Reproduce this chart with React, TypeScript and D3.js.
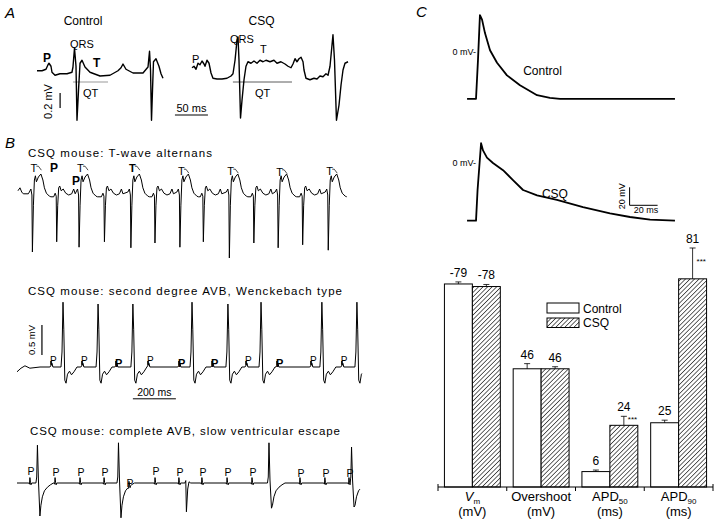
import React from 'react';
import * as d3 from 'd3';

type Pt = [number, number];
const FONT = '"Liberation Sans", Arial, Helvetica, sans-serif';

// ---------------- Panel A: ECG (time ms, voltage mV) ----------------
const ecgControlA: Pt[] = [
  [0, -0.01], [7.6, -0.01], [13.6, 0.01], [16.7, 0.07], [18.2, 0.09], [21.2, 0.05], [22.7, -0.03],
  [27.3, -0.07], [34.8, -0.05], [45.5, -0.05], [53, -0.03], [54.5, 0.04], [56.8, 0.29], [59.1, 0.05],
  [60.6, -0.67], [62.9, -0.27], [65.2, 0.09], [68.2, 0.13], [72.7, 0.04], [80.3, -0.03], [95.5, -0.08],
  [110.6, -0.07], [122.7, -0.01], [127.3, 0.03], [130.3, 0.08], [134.8, 0.01], [145.5, -0.04],
  [160.6, -0.04], [168.2, 0.04], [170.5, 0.25], [172, 0], [173.5, -0.67], [175, -0.27], [176.5, 0.11],
  [180.3, 0.15], [184.8, 0.05], [187.9, -0.05], [190.9, -0.11],
];
const ecgCsqA: Pt[] = [
  [0, 0.03], [3, 0.05], [6.1, 0.01], [9.1, 0.09], [12.1, 0.07], [15.2, 0.12], [18.2, 0.08], [19.7, 0.05],
  [22.7, 0.13], [25.8, 0.09], [28.8, -0.04], [31.8, -0.11], [37.9, -0.12], [45.5, -0.12], [53, -0.11],
  [59.1, -0.08], [62.1, -0.05], [65.2, 0.13], [68.2, 0.4], [69.7, 0.44], [71.2, 0.13], [73.5, -0.64],
  [75.8, -0.4], [78.8, -0.13], [81.8, 0.05], [84.8, 0.11], [89.4, 0.09], [93.9, 0.12], [98.5, 0.09],
  [103, 0.13], [107.6, 0.11], [112.1, 0.13], [118.2, 0.11], [124.2, 0.13], [128.8, 0.09], [134.8, 0.11],
  [140.9, 0.08], [145.5, 0.05], [150, 0.03], [153, 0.08], [156.1, 0.15], [159.1, 0.11], [162.1, 0.15],
  [165.2, 0.17], [168.2, 0.11], [169.7, 0], [172.7, -0.11], [178.8, -0.13], [184.8, -0.11], [189.4, -0.12],
  [193.9, -0.08], [198.5, -0.09], [203, -0.05], [206.1, -0.07], [209.1, 0.05], [212.1, 0.33], [213.6, 0.47],
  [215.9, 0.13], [218.9, -0.67], [222.7, -0.47], [225.8, -0.2], [228.8, 0], [231.8, 0.09], [236.4, 0.11],
];
const labelsControlA = [
  { text: 'P', t: 9.1, v: 0.107, bold: true },
  { text: 'QRS', t: 50, v: 0.29, bold: false },
  { text: 'T', t: 84.8, v: 0.04, bold: true },
  { text: 'QT', t: 69.7, v: -0.36, bold: false },
];
const labelsCsqA = [
  { text: 'P', t: 0, v: 0.09, bold: false },
  { text: 'QRS', t: 57.6, v: 0.36, bold: false },
  { text: 'T', t: 103, v: 0.23, bold: false },
  { text: 'QT', t: 95.5, v: -0.36, bold: false },
];
const qtControlA: Pt = [54.5, 107.6];
const qtCsqA: Pt = [62, 151.5];

// ---------------- Panel B1: T-wave alternans ----------------
const altSpikeTimes = [67, 180, 284, 402, 525, 637, 753, 862, 983, 1097, 1210, 1324, 1443];
const altSpikeDepths = [-1.0, -0.83, -0.92, -0.83, -0.93, -0.85, -0.92, -0.83, -1.1, -0.85, -0.93, -0.88, -0.97];
const altBeatKinds = ['long', 'short', 'long', 'short', 'long', 'short', 'long', 'short', 'long', 'short', 'long', 'short', 'long'];
const altLongT: Pt[] = [
  [-14, 0], [-7, 0.05], [-2.3, -0.05], [0, -1], [4.7, -0.22], [9.3, 0.2], [14, 0.27], [18.6, 0.17],
  [27.9, 0.25], [39.5, 0.3], [48.8, 0.2], [55.8, 0.07], [65.1, -0.02], [79, -0.07], [86, -0.08],
];
const altShortT: Pt[] = [
  [-14, -0.08], [-7, -0.02], [-2.3, -0.07], [0, -1], [4.7, -0.22], [9.3, 0.07], [14, 0.1], [20.9, 0.02],
  [30.2, 0.05], [41.9, -0.02], [55.8, -0.05], [69.8, -0.03], [79, 0.05], [86, -0.03],
];
const altLeadIn: Pt[] = [[0, 0.02], [1.4, 0.03], [9.3, 0.07], [17.2, 0], [24.6, -0.03], [47.9, -0.03]];
const altTLabelLevels = [0.33, 0.33, 0.33, 0.28, 0.28, 0.27, 0.28];
const altTLabelBold = [false, false, true, false, false, false, false];
const altPLabels = [{ t: 149, v: 0.33 }, { t: 251, v: 0.12 }];

// ---------------- Panel B2: Wenckebach ----------------
const wenckRTimes = [214, 377, 539, 814, 981, 1135, 1418, 1581];
const wenckRHeights = [1.08, 1.05, 1.05, 1.08, 1.05, 1.08, 1.08, 1.08];
const wenckPTimes = [158, 302, 460, 609, 753, 907, 1065, 1209, 1367, 1511];
const wenckPBold = [false, false, true, false, true, true, false, true, false, false];
const wenckQrs: Pt[] = [
  [-9.3, 0], [-4.7, 0.25], [0, 1.08], [3.7, 0.62], [8.4, -0.22], [14, -0.27], [20.9, -0.12],
  [30.2, -0.07], [39.5, -0.13], [51, -0.08], [65, 0],
];
const wenckP: Pt[] = [[-5, 0], [-1, 0.02], [0, 0.1], [2, 0.03], [5, 0.06], [9, 0]];
const wenckLeadIn: Pt[] = [[0, -0.08], [18.6, -0.02], [37, 0.02], [60, -0.02], [107, 0]];
const wenckEnd = 1604;

// ---------------- Panel B3: complete AVB ----------------
const avbEscapeTimes = [95, 472, 1172, 1556];
const avbEscapeTops = [0.63, 0.67, 0.67, 0.6];
const avbEscapeBottoms = [-0.55, -0.58, -0.42, -0.4];
const avbEscape: Pt[] = [
  [-7, 0], [-3.3, 0.1], [0, 0.63], [4.7, 0.05], [11.6, -0.5], [16.3, -0.37], [23, -0.23],
  [32.6, -0.13], [46.5, -0.07], [60.5, -0.03], [74.4, 0],
];
const avbOddTime = 788;
const avbOdd: Pt[] = [[-7, 0], [-3, 0.04], [0, -0.48], [6, -0.1], [12, 0.02], [20, 0]];
const avbPTimes = [60, 177, 293, 405, 521, 642, 753, 860, 977, 1093, 1316, 1432, 1544];
const avbPLabelLevels = [0.14, 0.12, 0.12, 0.12, -0.07, 0.13, 0.12, 0.12, 0.12, 0.12, 0.1, 0.1, 0.1];
const avbP: Pt[] = [[-5, 0], [-2, -0.02], [0, 0.09], [2.5, 0.01], [5, -0.03], [8, 0]];
const avbEnd = 1595;

// ---------------- Panel C: action potentials (ms, mV) ----------------
const apControl: Pt[] = [
  [-7.1, -52], [-0.7, -52], [0.7, -9], [2.1, 41], [3.6, 36], [5.7, 21], [9.3, 2], [14.3, -12],
  [21.4, -26], [30.7, -37], [42.9, -48], [52.1, -51], [59.3, -52], [141.4, -52],
];
const apCsq: Pt[] = [
  [-7.1, -64], [-0.7, -64], [0.4, -30], [2.9, 22], [4.3, 14], [7.1, 6], [11.4, 0], [18.6, -8],
  [25.7, -19], [32.9, -30], [42.9, -36], [57.1, -41], [75.7, -49], [95, -56], [109.3, -60],
  [123.6, -63], [141.4, -64],
];

// ---------------- Panel C: bar chart ----------------
const categories = ['Vm', 'Overshoot', 'APD50', 'APD90'];
const catMain = ['V', 'Overshoot', 'APD', 'APD'];
const catSub = ['m', '', '50', '90'];
const catUnit = ['(mV)', '(mV)', '(ms)', '(ms)'];
const controlMeans = [-79, 46, 6, 25];
const csqMeans = [-78, 46, 24, 81];
const controlSem = [0.8, 2, 0.6, 1];
const csqSem = [0.8, 0.8, 3.5, 12];
const csqSignif = ['', '', '***', '***'];
const groups = ['Control', 'CSQ'];

function interp(tpl: Pt[], dt: number): number {
  if (dt < tpl[0][0] || dt > tpl[tpl.length - 1][0]) return 0;
  for (let i = 1; i < tpl.length; i++) {
    if (dt <= tpl[i][0]) {
      const [t0, v0] = tpl[i - 1];
      const [t1, v1] = tpl[i];
      return t1 === t0 ? v1 : v0 + ((v1 - v0) * (dt - t0)) / (t1 - t0);
    }
  }
  return 0;
}

function compose(comps: { t: number; tpl: Pt[] }[], start: number, end: number): Pt[] {
  const times = new Set<number>([start, end]);
  comps.forEach((c) => c.tpl.forEach((p) => {
    const tt = c.t + p[0];
    if (tt >= start && tt <= end) times.add(tt);
  }));
  const ts = Array.from(times).sort((a, b) => a - b);
  return ts.map((t) => [t, d3.sum(comps, (c) => interp(c.tpl, t - c.t))] as Pt);
}

function withPeak(tpl: Pt[], at: number, v: number): Pt[] {
  return tpl.map(([dt, val]) => [dt, dt === at ? v : val] as Pt);
}

export default function App() {
  const lineOf = (x: d3.ScaleLinear<number, number>, y: d3.ScaleLinear<number, number>) =>
    d3.line<Pt>().x((d) => x(d[0])).y((d) => y(d[1]));

  // ---- scales ----
  const xACtrl = d3.scaleLinear().domain([0, 100]).range([37, 103]);
  const xACsq = d3.scaleLinear().domain([0, 100]).range([192, 258]);
  const yA = d3.scaleLinear().domain([0, 1]).range([70, -5]);
  const xB1 = d3.scaleLinear().domain([0, 1000]).range([18, 233]);
  const yB1 = d3.scaleLinear().domain([0, 1]).range([192, 132]);
  const xB2 = d3.scaleLinear().domain([0, 1000]).range([17, 232]);
  const yB2 = d3.scaleLinear().domain([0, 1]).range([367, 307]);
  const yB3 = d3.scaleLinear().domain([0, 1]).range([483, 423]);
  const xC = d3.scaleLinear().domain([0, 20]).range([477, 505]);
  const yCCtrl = d3.scaleLinear().domain([0, 20]).range([52, 34]);
  const yCCsq = d3.scaleLinear().domain([0, 20]).range([163, 145]);

  // ---- B1 trace ----
  const b1: Pt[] = [
    ...altLeadIn,
    ...altSpikeTimes.flatMap((t, i) =>
      withPeak(altBeatKinds[i] === 'long' ? altLongT : altShortT, 0, altSpikeDepths[i]).map(
        ([dt, v]) => [t + dt, v] as Pt,
      ),
    ),
  ];
  const bigIdx = altSpikeTimes.map((t, i) => i).filter((i) => altBeatKinds[i] === 'long');

  // ---- B2 trace ----
  const b2 = compose(
    [
      { t: 0, tpl: wenckLeadIn },
      ...wenckRTimes.map((t, i) => ({ t, tpl: withPeak(wenckQrs, 0, wenckRHeights[i]) })),
      ...wenckPTimes.map((t) => ({ t, tpl: wenckP })),
    ],
    0,
    wenckEnd,
  );

  // ---- B3 trace ----
  const b3 = compose(
    [
      ...avbEscapeTimes.map((t, i) => ({
        t,
        tpl: withPeak(withPeak(avbEscape, 0, avbEscapeTops[i]), 11.6, avbEscapeBottoms[i]),
      })),
      { t: avbOddTime, tpl: avbOdd },
      ...avbPTimes.map((t) => ({ t, tpl: avbP })),
    ],
    0,
    avbEnd,
  );

  // ---- bar chart scales ----
  const xBand = d3.scaleBand<string>().domain(categories).range([438, 713]).padding(0);
  const xGroup = d3.scaleBand<string>().domain(groups).range([0, xBand.bandwidth()]).paddingInner(0).paddingOuter(0.23);
  const yBar = d3.scaleLinear().domain([0, 100]).range([487, 230]);
  const bw = xGroup.bandwidth();
  const tickXs = [...categories.map((c) => xBand(c) as number), xBand.range()[1]];

  const txt = { fontFamily: FONT, fill: '#000' } as const;

  const renderBar = (c: string, i: number, g: string) => {
    const mean = g === 'Control' ? controlMeans[i] : csqMeans[i];
    const sem = g === 'Control' ? controlSem[i] : csqSem[i];
    const x0 = (xBand(c) as number) + (xGroup(g) as number);
    const cx = x0 + bw / 2;
    const top = yBar(Math.abs(mean));
    const errTop = yBar(Math.abs(mean) + sem);
    return (
      <g key={c + g}>
        <rect x={x0} y={top} width={bw} height={yBar(0) - top}
          fill={g === 'Control' ? '#fff' : 'url(#hatch)'} stroke="#000" strokeWidth={1} />
        <line x1={cx} x2={cx} y1={top} y2={errTop} stroke="#000" strokeWidth={0.8} />
        <line x1={cx - 3} x2={cx + 3} y1={errTop} y2={errTop} stroke="#000" strokeWidth={0.8} />
        <text x={cx} y={errTop - 5} textAnchor="middle" fontSize={12} {...txt}>{String(mean)}</text>
        {g === 'CSQ' && csqSignif[i] ? (
          <text x={cx + 4} y={(errTop + top) / 2 + 1} fontSize={8} {...txt}>{csqSignif[i]}</text>
        ) : null}
      </g>
    );
  };

  return (
    <svg width={720} height={527} style={{ position: 'absolute', left: 0, top: 0, background: '#fff' }}
      fontFamily={FONT}>
      <defs>
        <pattern id="hatch" patternUnits="userSpaceOnUse" width={3.2} height={3.2} patternTransform="rotate(45)">
          <rect width={3.2} height={3.2} fill="#fff" />
          <line x1={0} y1={0} x2={0} y2={3.2} stroke="#000" strokeWidth={1.2} />
        </pattern>
      </defs>
      <rect width={720} height={527} fill="#fff" />

      {/* ---------- Panel A ---------- */}
      <text x={5} y={18} fontSize={15} fontStyle="italic" {...txt}>A</text>
      <text x={83} y={25} fontSize={12} textAnchor="middle" {...txt}>Control</text>
      <text x={261.5} y={25} fontSize={12} textAnchor="middle" {...txt}>CSQ</text>
      <line x1={xACtrl(qtControlA[0])} x2={xACtrl(qtControlA[1])} y1={yA(-0.16)} y2={yA(-0.16)} stroke="#999" strokeWidth={1} />
      <line x1={xACsq(qtCsqA[0])} x2={xACsq(qtCsqA[1])} y1={yA(-0.16)} y2={yA(-0.16)} stroke="#333" strokeWidth={0.8} />
      <path d={lineOf(xACtrl, yA)(ecgControlA) || ''} fill="none" stroke="#000" strokeWidth={1.4} strokeLinejoin="round" />
      <path d={lineOf(xACsq, yA)(ecgCsqA) || ''} fill="none" stroke="#000" strokeWidth={1.4} strokeLinejoin="round" />
      {labelsControlA.map((l) => (
        <text key={'ca' + l.text} x={xACtrl(l.t)} y={yA(l.v)} fontSize={l.bold ? 12 : 11}
          fontWeight={l.bold ? 'bold' : 'normal'} {...txt}>{l.text}</text>
      ))}
      {labelsCsqA.map((l) => (
        <text key={'sa' + l.text} x={xACsq(l.t)} y={yA(l.v)} fontSize={11}
          fontWeight={l.bold ? 'bold' : 'normal'} {...txt}>{l.text}</text>
      ))}
      {/* A scale bars */}
      <line x1={xACtrl(35)} x2={xACtrl(35)} y1={yA(-0.307)} y2={yA(-0.507)} stroke="#000" strokeWidth={1.2} />
      <text transform={`translate(${xACtrl(22.7)},${yA(-0.42)}) rotate(-90)`} textAnchor="middle" fontSize={11} {...txt}>0.2 mV</text>
      <line x1={xACtrl(209)} x2={xACtrl(259)} y1={yA(-0.6)} y2={yA(-0.6)} stroke="#000" strokeWidth={1} />
      <text x={(xACtrl(209) + xACtrl(259)) / 2} y={yA(-0.56)} textAnchor="middle" fontSize={11} {...txt}>50 ms</text>

      {/* ---------- Panel B ---------- */}
      <text x={5} y={148} fontSize={15} fontStyle="italic" {...txt}>B</text>
      <text x={28} y={157} fontSize={11.5} textLength={184} lengthAdjust="spacing" {...txt}>CSQ mouse: T-wave alternans</text>
      <path d={lineOf(xB1, yB1)(b1) || ''} fill="none" stroke="#000" strokeWidth={1} strokeLinejoin="round" />
      {bigIdx.map((bi, k) => {
        const x = xB1(altSpikeTimes[bi]) - 2;
        const y = yB1(altTLabelLevels[k]);
        return (
          <g key={'tl' + bi}>
            <text x={x} y={y} fontSize={11} fontWeight={altTLabelBold[k] ? 'bold' : 'normal'} {...txt}>T</text>
            <line x1={x + 6} y1={y - 6} x2={x + 8} y2={y - 6} stroke="#000" strokeWidth={0.7} />
            <line x1={x + 8} y1={y - 6} x2={x + 11} y2={y - 2} stroke="#000" strokeWidth={0.7} />
          </g>
        );
      })}
      {altPLabels.map((p, i) => (
        <text key={'bp' + i} x={xB1(p.t)} y={yB1(p.v)} fontSize={12} fontWeight="bold" {...txt}>P</text>
      ))}

      <text x={28} y={295} fontSize={11.5} textLength={314} lengthAdjust="spacing" {...txt}>CSQ mouse: second degree AVB, Wenckebach type</text>
      <path d={lineOf(xB2, yB2)(b2) || ''} fill="none" stroke="#000" strokeWidth={1} strokeLinejoin="round" />
      {wenckPTimes.map((t, i) => (
        <text key={'wp' + i} x={xB2(t) - 1} y={wenckPBold[i] ? 367 : 364} fontSize={wenckPBold[i] ? 11 : 10}
          fontWeight={wenckPBold[i] ? 'bold' : 'normal'} {...txt}>P</text>
      ))}
      <line x1={xB2(116)} x2={xB2(116)} y1={yB2(0.7)} y2={yB2(0.2)} stroke="#000" strokeWidth={1.2} />
      <text transform={`translate(${xB2(83)},${yB2(0.45)}) rotate(-90)`} textAnchor="middle" fontSize={9.5} {...txt}>0.5 mV</text>
      <line x1={xB2(539)} x2={xB2(739)} y1={yB2(-0.53)} y2={yB2(-0.53)} stroke="#000" strokeWidth={1} />
      <text x={(xB2(539) + xB2(739)) / 2} y={yB2(-0.485)} textAnchor="middle" fontSize={10.5} {...txt}>200 ms</text>

      <text x={30} y={435} fontSize={11.5} textLength={310} lengthAdjust="spacing" {...txt}>CSQ mouse: complete AVB, slow ventricular escape</text>
      <path d={lineOf(xB2, yB3)(b3) || ''} fill="none" stroke="#000" strokeWidth={1} strokeLinejoin="round" />
      {avbPTimes.map((t, i) => (
        <text key={'ap' + i} x={xB2(t) - 2.5} y={yB3(avbPLabelLevels[i])} fontSize={10.5} {...txt}>P</text>
      ))}

      {/* ---------- Panel C ---------- */}
      <text x={416} y={17} fontSize={15} fontStyle="italic" {...txt}>C</text>
      <path d={lineOf(xC, yCCtrl)(apControl) || ''} fill="none" stroke="#000" strokeWidth={1.8} strokeLinejoin="round" />
      <path d={lineOf(xC, yCCsq)(apCsq) || ''} fill="none" stroke="#000" strokeWidth={1.8} strokeLinejoin="round" />
      <text x={xC(-0.7)} y={yCCtrl(0) + 3} textAnchor="end" fontSize={9} {...txt}>0 mV-</text>
      <text x={xC(-0.7)} y={yCCsq(0) + 3} textAnchor="end" fontSize={9} {...txt}>0 mV-</text>
      <text x={xC(33)} y={yCCtrl(-26)} fontSize={12} {...txt}>Control</text>
      <text x={xC(46.4)} y={yCCsq(-39)} fontSize={12} {...txt}>CSQ</text>
      <path d={`M${xC(109)},${yCCsq(-27)}V${yCCsq(-47)}H${xC(129)}`} fill="none" stroke="#000" strokeWidth={1} />
      <text transform={`translate(${xC(106)},${yCCsq(-37)}) rotate(-90)`} textAnchor="middle" fontSize={9} {...txt}>20 mV</text>
      <text x={xC(112)} y={yCCsq(-47) + 8} fontSize={9} {...txt}>20 ms</text>

      {/* bar chart */}
      {categories.map((c, i) => groups.map((g) => renderBar(c, i, g)))}
      <line x1={xBand.range()[0]} x2={xBand.range()[1]} y1={yBar(0)} y2={yBar(0)} stroke="#000" strokeWidth={1} />
      {tickXs.map((x, i) => (
        <line key={'tk' + i} x1={x} x2={x} y1={yBar(0) - (i === 0 || i === tickXs.length - 1 ? 3 : 0)} y2={yBar(0) + 4} stroke="#000" strokeWidth={1} />
      ))}
      {categories.map((c, i) => {
        const cx = (xBand(c) as number) + xBand.bandwidth() / 2;
        return (
          <text key={'cl' + c} x={cx} y={501} textAnchor="middle" fontSize={13} {...txt}>
            <tspan fontStyle={i === 0 ? 'italic' : 'normal'}>{catMain[i]}</tspan>
            {catSub[i] ? <tspan fontSize={8} dy={2.5}>{catSub[i]}</tspan> : null}
            <tspan x={cx} y={516}>{catUnit[i]}</tspan>
          </text>
        );
      })}
      {/* legend */}
      <rect x={547} y={303} width={32} height={10} fill="#fff" stroke="#000" strokeWidth={1} />
      <rect x={547} y={318} width={32} height={9.5} fill="url(#hatch)" stroke="#000" strokeWidth={1} />
      <text x={583} y={313} fontSize={12} {...txt}>Control</text>
      <text x={583} y={327} fontSize={12} {...txt}>CSQ</text>
    </svg>
  );
}
